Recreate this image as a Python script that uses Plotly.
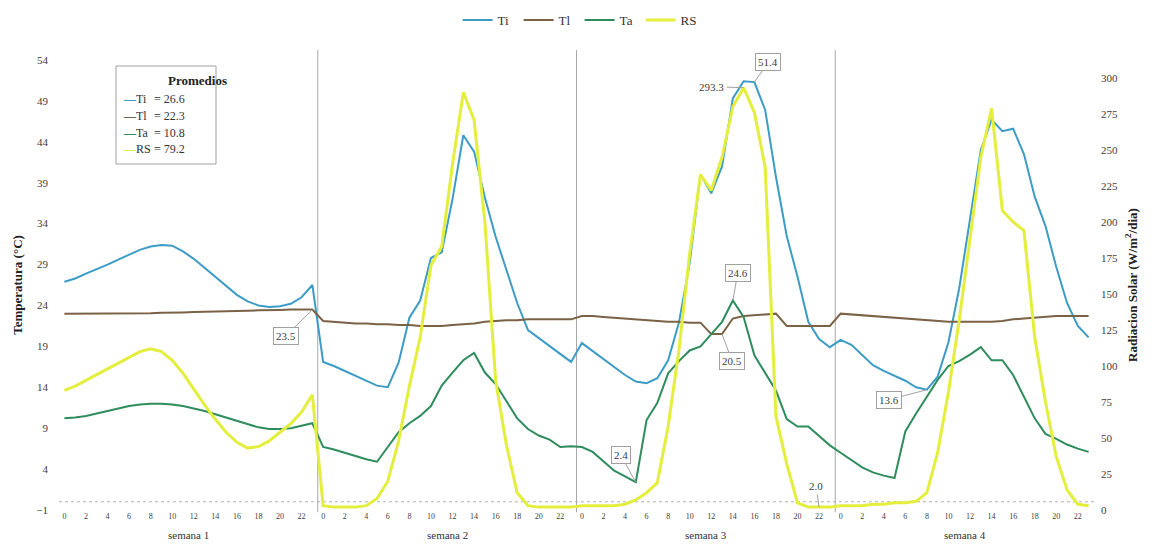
import plotly.graph_objects as go

# ---------------- data ----------------
hours = list(range(24))
weeks = ["semana 1", "semana 2", "semana 3", "semana 4"]

ti_w1 = [26.9, 27.3, 27.9, 28.4, 29.0, 29.6, 30.2, 30.8, 31.2, 31.4, 31.3, 30.6,
         29.7, 28.6, 27.4, 26.3, 25.3, 24.5, 24.0, 23.8, 23.9, 24.2, 25.0, 26.5]
ti_w2 = [17.1, 16.6, 16.0, 15.4, 14.8, 14.2, 14.0, 17.0, 22.5, 24.6, 29.8, 30.5,
         37.0, 44.8, 42.8, 37.2, 32.4, 28.3, 24.3, 21.0, 20.0, 19.0, 18.0, 17.1]
ti_w3 = [19.4, 18.4, 17.4, 16.5, 15.5, 14.7, 14.5, 15.1, 17.3, 21.9, 29.2, 40.0,
         37.7, 41.0, 49.3, 51.4, 51.3, 47.9, 39.7, 32.5, 27.5, 22.0, 19.9, 18.9]
ti_w4 = [19.8, 19.2, 18.0, 16.7, 16.0, 15.4, 14.8, 14.0, 13.7, 15.3, 19.5, 26.1,
         34.6, 43.0, 46.7, 45.3, 45.6, 42.5, 37.3, 33.7, 28.7, 24.3, 21.5, 20.1]

tl_w1 = [23.0, 23.0, 23.0, 23.0, 23.0, 23.0, 23.0, 23.0, 23.05, 23.1, 23.1, 23.15,
         23.2, 23.2, 23.25, 23.3, 23.3, 23.35, 23.4, 23.4, 23.45, 23.5, 23.5, 23.5]
tl_w2 = [22.1, 22.0, 21.9, 21.8, 21.8, 21.7, 21.7, 21.6, 21.6, 21.5, 21.5, 21.5,
         21.6, 21.7, 21.8, 22.0, 22.1, 22.2, 22.2, 22.3, 22.3, 22.3, 22.3, 22.3]
tl_w3 = [22.7, 22.7, 22.6, 22.5, 22.4, 22.3, 22.2, 22.1, 22.0, 22.0, 21.9, 21.9,
         20.5, 20.5, 22.4, 22.7, 22.8, 22.9, 23.0, 21.5, 21.5, 21.5, 21.5, 21.5]
tl_w4 = [23.0, 22.9, 22.8, 22.7, 22.6, 22.5, 22.4, 22.3, 22.2, 22.1, 22.0, 22.0,
         22.0, 22.0, 22.0, 22.1, 22.3, 22.4, 22.5, 22.6, 22.7, 22.7, 22.7, 22.7]

ta_w1 = [10.2, 10.3, 10.5, 10.8, 11.1, 11.4, 11.7, 11.9, 12.0, 12.0, 11.9, 11.7,
         11.4, 11.1, 10.7, 10.3, 9.9, 9.5, 9.1, 8.9, 8.9, 9.0, 9.3, 9.6]
ta_w2 = [6.7, 6.4, 6.0, 5.6, 5.2, 4.9, 6.7, 8.5, 9.6, 10.5, 11.7, 14.2,
         15.8, 17.3, 18.2, 15.8, 14.4, 12.3, 10.2, 8.9, 8.1, 7.6, 6.7, 6.8]
ta_w3 = [6.7, 6.1, 5.0, 3.8, 3.1, 2.4, 10.0, 12.1, 15.7, 17.2, 18.5, 19.0,
         20.5, 22.0, 24.6, 22.6, 17.9, 15.8, 13.6, 10.1, 9.2, 9.2, 8.0, 6.9]
ta_w4 = [6.0, 5.1, 4.2, 3.6, 3.2, 2.9, 8.6, 10.8, 12.8, 14.9, 16.6, 17.2,
         18.0, 18.9, 17.3, 17.3, 15.5, 12.9, 10.2, 8.3, 7.7, 7.0, 6.5, 6.1]

rs_w1 = [83, 86, 90, 94, 98, 102, 106, 110, 112, 110, 104, 95,
         84, 73, 63, 54, 47, 43, 44, 48, 54, 60, 68, 80]
rs_w2 = [3, 2, 2, 2, 3, 8, 20, 48, 86, 120, 170, 183,
         240, 290, 271, 200, 90, 45, 12, 3, 2, 2, 2, 2]
rs_w3 = [3, 3, 3, 3, 4, 7, 12, 19, 58, 111, 178, 233,
         222, 245, 280, 293.3, 276, 238, 65, 32, 5, 2, 2, 2]
rs_w4 = [3, 3, 3, 4, 4, 5, 5, 6, 12, 40, 82, 132,
         190, 245, 279, 208, 200, 194, 120, 75, 37, 14, 4, 3]

averages = {"Ti": "26.6", "Tl": "22.3", "Ta": "10.8", "RS": "79.2"}

# ---------------- build ----------------
Ti = ti_w1 + ti_w2 + ti_w3 + ti_w4
Tl = tl_w1 + tl_w2 + tl_w3 + tl_w4
Ta = ta_w1 + ta_w2 + ta_w3 + ta_w4
RS = rs_w1 + rs_w2 + rs_w3 + rs_w4
idx = list(range(len(Ti)))

C_TI = "#3d9cc6"
C_TL = "#7a6246"
C_TA = "#2f8c5c"
C_RS = "#e4ee3c"
FONT = "Liberation Serif"
TXT = "#404040"

fig = go.Figure()
fig.add_trace(go.Scatter(x=idx, y=Ti, name="Ti", mode="lines",
                         line=dict(color=C_TI, width=2)))
fig.add_trace(go.Scatter(x=idx, y=Tl, name="Tl", mode="lines",
                         line=dict(color=C_TL, width=2)))
fig.add_trace(go.Scatter(x=idx, y=Ta, name="Ta", mode="lines",
                         line=dict(color=C_TA, width=2)))
fig.add_trace(go.Scatter(x=idx, y=RS, name="RS", mode="lines", yaxis="y2",
                         line=dict(color=C_RS, width=3)))

tickvals = [i for i in idx if i % 2 == 0]
ticktext = [str(hours[i % 24]) for i in tickvals]

# the page body adds an 8px offset; the figure is sized so the plot lands
# at x 59..1094, y 60..510 of the window
fig.update_layout(
    width=1147, height=537,
    margin=dict(l=51, r=61, t=52, b=35, autoexpand=False),
    paper_bgcolor="white", plot_bgcolor="white",
    font=dict(family=FONT, color=TXT),
    showlegend=True,
    legend=dict(orientation="h", x=0.503, xanchor="center", y=1.089, yanchor="middle",
                font=dict(family=FONT, size=13, color="#333333"),
                entrywidth=16, entrywidthmode="pixels", bgcolor="rgba(0,0,0,0)"),
    xaxis=dict(range=[-0.5, 95.5], tickvals=tickvals, ticktext=ticktext,
               tickfont=dict(size=8, color=TXT), showgrid=False, zeroline=False,
               showline=False, ticks=""),
    yaxis=dict(range=[-1, 54], tick0=-1, dtick=5, showgrid=False, zeroline=False,
               showline=False, ticks="", ticklabelstandoff=10,
               tickfont=dict(size=11, color=TXT),
               title=dict(text="<b>Temperatura (°C)</b>", standoff=10,
                          font=dict(size=13, color="#222222"))),
    yaxis2=dict(range=[0, 312.5], tick0=0, dtick=25, overlaying="y", side="right",
                showgrid=False, zeroline=False, showline=False, ticks="",
                ticklabelstandoff=6, tickfont=dict(size=11, color=TXT),
                title=dict(text="<b>Radiacion Solar (W/m<sup>2</sup>/dia)</b>", standoff=10,
                           font=dict(size=13, color="#222222"))),
)

# dotted horizontal axis at T = 0
fig.add_shape(type="line", xref="paper", yref="y", x0=0, x1=1, y0=0, y1=0,
              line=dict(color="#b0b0b0", width=1, dash="dot"), layer="below")
# week separators
for b in [23.5, 47.5, 71.5]:
    fig.add_shape(type="line", xref="x", yref="paper", x0=b, x1=b, y0=-0.005, y1=1.022,
                  line=dict(color="#a8a8a8", width=1), layer="below")

# week labels
for k, w in enumerate(weeks):
    fig.add_annotation(x=24 * k + 11.5, xref="x", y=0, yref="paper", yshift=-25,
                       yanchor="middle", text=w, showarrow=False,
                       font=dict(size=11, color="#333333"))

# value labels
def lab(x, y, text, ax, ay, box=True, yref="y"):
    fig.add_annotation(x=x, y=y, xref="x", yref=yref, text=text, showarrow=True,
                       arrowhead=0, arrowwidth=1, arrowcolor="#a0a0a0",
                       ax=ax, ay=ay, axref="pixel", ayref="pixel",
                       font=dict(size=11, color="#404040"),
                       bordercolor="#a0a0a0" if box else "rgba(0,0,0,0)",
                       borderwidth=1, borderpad=2, bgcolor="white" if box else "rgba(0,0,0,0)")

lab(23, Tl[23], "23.5", -26, 26)
lab(64, Ti[64], "51.4", 14, -20)
lab(63, RS[63], "293.3", -32, -1, box=False, yref="y2")
lab(62, Ta[62], "24.6", 5, -28)
lab(61, Tl[61], "20.5", 10, 27)
lab(53, Ta[53], "2.4", -15, -27)
lab(70, RS[70], "2.0", -3, -21, box=False, yref="y2")
lab(80, Ti[80], "13.6", -38, 10)

# averages box (positions given in window pixels, converted to paper units)
def px(xp):
    return (xp - 59) / 1035.0

def py(yp):
    return 1 - (yp - 60) / 450.0

fig.add_shape(type="rect", xref="paper", yref="paper", x0=px(116), x1=px(216),
              y0=py(164), y1=py(66), line=dict(color="#a0a0a0", width=1),
              fillcolor="white")
fig.add_annotation(xref="paper", yref="paper", x=px(166), y=py(81), yanchor="middle",
                   text="<b>Promedios</b>",
                   showarrow=False, font=dict(size=13, color="#222222"))
rows = [("Ti", C_TI, 99), ("Tl", C_TL, 116), ("Ta", C_TA, 133), ("RS", C_RS, 149)]
for name, col, yp in rows:
    fig.add_annotation(xref="paper", yref="paper", x=px(121), y=py(yp), xanchor="left",
                       yanchor="middle",
                       text=f"<span style='color:{col}'><b>—</b></span>{name}",
                       showarrow=False, font=dict(size=12, color="#333333"))
    fig.add_annotation(xref="paper", yref="paper", x=px(152), y=py(yp), xanchor="left",
                       yanchor="middle", text=f"= {averages[name]}",
                       showarrow=False, font=dict(size=12, color="#333333"))

fig.write_html("out.html")
